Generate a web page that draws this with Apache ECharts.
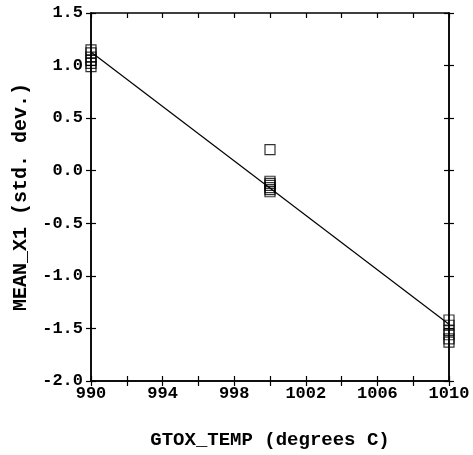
<!DOCTYPE html>
<html>
<head>
<meta charset="utf-8">
<script src="https://cdn.jsdelivr.net/npm/echarts@6/dist/echarts.min.js"></script>
<style>
  html, body { margin: 0; padding: 0; background: #fff; }
  #chart { width: 473px; height: 455px; }
</style>
</head>
<body>
<div id="chart"></div>
<script>
// Oxide temperature levels and the mean response measured at each
const temp990 = [990, 990, 990, 990, 990, 990];
const mean990 = [1.15, 1.12, 1.08, 1.05, 1.02, 0.99];
const temp1000 = [1000, 1000, 1000, 1000, 1000, 1000, 1000];
const mean1000 = [0.20, -0.10, -0.12, -0.14, -0.16, -0.18, -0.20];
const temp1010 = [1010, 1010, 1010, 1010, 1010, 1010];
const mean1010 = [-1.42, -1.47, -1.52, -1.56, -1.60, -1.63];

// Least-squares fit line end points
const fitTemp = [990, 1010];
const fitMean = [1.13, -1.46];

const xTickLabels = ['990', '994', '998', '1002', '1006', '1010'];
const yTickLabels = ['-2.0', '-1.5', '-1.0', '-0.5', '0.0', '0.5', '1.0', '1.5'];

const FONT = '"Liberation Mono", "DejaVu Sans Mono", monospace';

const zip = (xs, ys) => xs.map((x, i) => [x, ys[i]]);

const grid = { left: 91, right: 24, top: 13, bottom: 74 };

const xBase = { type: 'value', min: 990, max: 1010, interval: 2, gridIndex: 0,
  splitLine: { show: false },
  axisLine: { show: true, onZero: false, lineStyle: { color: '#000', width: 1.5 } } };
const yBase = { type: 'value', min: -2, max: 1.5, interval: 0.5, gridIndex: 0,
  splitLine: { show: false },
  axisLine: { show: true, onZero: false, lineStyle: { color: '#000', width: 1.5 } } };
const tick = (inside) => ({ show: true, inside: inside, length: 5, lineStyle: { color: '#000', width: 1.2 } });

const option = {
  backgroundColor: '#fff',
  animation: false,
  grid: grid,
  xAxis: [
    Object.assign({}, xBase, {
      position: 'bottom',
      axisTick: tick(false),
      axisLabel: {
        show: true, margin: 4, color: '#000', fontFamily: FONT, fontWeight: 'bold', fontSize: 17,
        formatter: v => xTickLabels.includes(String(v)) ? String(v) : ''
      },
      name: 'GTOX_TEMP (degrees C)', nameLocation: 'middle', nameGap: 50,
      nameTextStyle: { color: '#000', fontFamily: FONT, fontWeight: 'bold', fontSize: 19 }
    }),
    Object.assign({}, xBase, { position: 'bottom', axisTick: tick(true), axisLabel: { show: false } }),
    Object.assign({}, xBase, { position: 'top', axisTick: tick(true), axisLabel: { show: false } })
  ],
  yAxis: [
    Object.assign({}, yBase, {
      position: 'left',
      axisTick: tick(false),
      axisLabel: {
        show: true, margin: 8, color: '#000', fontFamily: FONT, fontWeight: 'bold', fontSize: 17,
        formatter: v => {
          const s = v.toFixed(1);
          return yTickLabels.includes(s) ? s : '';
        }
      },
      name: 'MEAN_X1 (std. dev.)', nameLocation: 'middle', nameGap: 60,
      nameTextStyle: { color: '#000', fontFamily: FONT, fontWeight: 'bold', fontSize: 20 }
    }),
    Object.assign({}, yBase, { position: 'left', axisTick: tick(true), axisLabel: { show: false } }),
    Object.assign({}, yBase, { position: 'right', axisTick: tick(false), axisLabel: { show: false } }),
    Object.assign({}, yBase, { position: 'right', axisTick: tick(true), axisLabel: { show: false } })
  ],
  series: [
    {
      type: 'line', data: zip(fitTemp, fitMean), showSymbol: false, symbol: 'none',
      lineStyle: { color: '#000', width: 1.2 }, z: 2
    },
    ...[[temp990, mean990], [temp1000, mean1000], [temp1010, mean1010]].map(([xs, ys]) => ({
      type: 'scatter', data: zip(xs, ys), symbol: 'rect', symbolSize: 10,
      itemStyle: { color: 'none', borderColor: '#000', borderWidth: 1.2 }, z: 3
    }))
  ]
};

echarts.init(document.getElementById('chart'), null, { renderer: 'canvas' }).setOption(option);
</script>
</body>
</html>
